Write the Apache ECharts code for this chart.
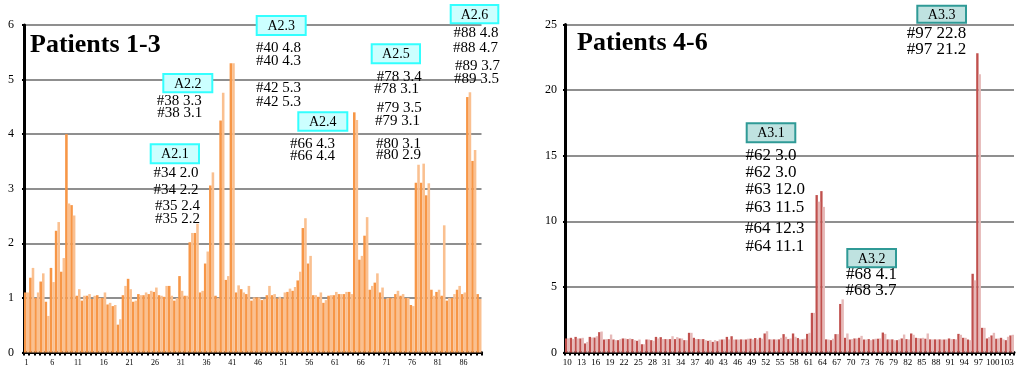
<!DOCTYPE html>
<html>
<head>
<meta charset="utf-8">
<script src="https://cdn.jsdelivr.net/npm/echarts@6/dist/echarts.min.js"></script>
<style>
  html, body { margin: 0; padding: 0; background: #fff; }
  #chart { width: 1020px; height: 372px; }
</style>
</head>
<body>
<div id="chart"></div>
<script>
// patients 1-3, positions 1..89
const leftCategories = Array.from({ length: 89 }, (_, i) => String(i + 1));
const leftDark = [
  1.10, 1.37, 1.00, 1.30, 0.93, 1.55, 2.23, 1.48, 4.00, 2.70,
  1.04, 0.95, 1.04, 0.98, 1.05, 1.00, 0.88, 0.85, 0.51, 1.05,
  1.35, 0.93, 1.07, 1.05, 1.07, 1.11, 1.05, 1.02, 1.22, 0.95,
  1.40, 1.04, 2.02, 2.19, 1.10, 1.63, 3.06, 1.04, 4.25, 1.33,
  5.30, 1.10, 1.16, 1.07, 0.95, 1.01, 0.96, 1.05, 1.05, 0.99,
  0.99, 1.11, 1.13, 1.32, 2.28, 1.63, 1.05, 1.02, 0.91, 1.04,
  1.05, 1.07, 1.07, 1.11, 4.40, 1.70, 2.14, 1.15, 1.28, 1.10,
  0.98, 1.00, 1.07, 1.04, 1.00, 0.87, 3.11, 3.11, 2.88, 1.15,
  1.11, 1.04, 0.95, 1.00, 1.15, 1.07, 4.68, 3.51, 1.07
];
const leftLight = [
  1.10, 1.55, 1.10, 1.45, 0.67, 1.29, 2.39, 1.73, 2.73, 2.51,
  1.16, 1.04, 1.07, 1.04, 1.00, 1.10, 0.91, 0.87, 0.61, 1.22,
  1.16, 0.95, 1.05, 1.10, 1.13, 1.19, 1.04, 1.22, 1.04, 1.00,
  1.13, 1.04, 2.19, 2.36, 1.13, 1.85, 3.30, 1.00, 4.76, 1.40,
  5.30, 1.23, 1.10, 1.22, 1.01, 1.01, 0.98, 1.22, 1.07, 1.02,
  1.10, 1.17, 1.20, 1.48, 2.46, 1.77, 1.05, 1.10, 0.96, 1.05,
  1.11, 1.07, 1.11, 1.07, 4.26, 1.77, 2.48, 1.22, 1.45, 1.19,
  1.00, 1.00, 1.13, 1.07, 1.00, 0.85, 3.44, 3.46, 3.10, 1.04,
  1.15, 2.33, 1.00, 1.07, 1.22, 1.10, 4.77, 3.71, 0.98
];

// patients 4-6, positions 10..104
const rightCategories = Array.from({ length: 95 }, (_, i) => String(i + 10));
const rightDark = [
  1.07, 1.12, 1.19, 1.07, 0.69, 1.19, 1.14, 1.55, 0.99, 1.02,
  0.99, 0.94, 1.07, 1.02, 1.02, 0.89, 0.63, 0.99, 0.94, 1.19,
  1.17, 1.02, 1.02, 1.02, 1.07, 0.94, 1.50, 1.12, 1.02, 1.02,
  0.89, 0.81, 0.86, 0.99, 1.19, 1.24, 0.99, 1.00, 0.99, 1.05,
  1.10, 1.12, 1.45, 1.00, 1.00, 1.00, 1.40, 1.02, 1.45, 1.10,
  1.00, 1.42, 3.02, 12.0, 12.3, 1.00, 0.94, 1.40, 3.70, 1.12,
  0.99, 1.07, 1.12, 0.99, 1.02, 1.00, 1.05, 1.52, 1.00, 1.00,
  0.94, 1.07, 1.02, 1.45, 1.12, 1.07, 1.05, 1.00, 1.00, 1.00,
  0.99, 1.07, 1.02, 1.42, 1.12, 0.99, 6.00, 22.8, 1.88, 1.07,
  1.30, 1.05, 1.12, 0.94, 1.30
];
const rightLight = [
  1.07, 1.02, 1.07, 1.12, 0.81, 1.14, 1.24, 1.60, 1.02, 1.37,
  0.94, 1.02, 1.07, 1.07, 0.94, 0.99, 0.63, 0.99, 0.89, 1.07,
  1.02, 1.02, 1.24, 1.17, 1.07, 0.94, 1.50, 1.02, 1.02, 0.94,
  0.94, 0.94, 0.99, 1.00, 1.00, 0.99, 0.99, 0.99, 1.05, 1.00,
  1.00, 1.05, 1.62, 1.00, 0.99, 1.12, 1.20, 1.07, 1.20, 1.00,
  1.05, 1.50, 3.02, 11.5, 11.1, 0.99, 1.05, 1.40, 4.05, 1.45,
  1.02, 1.07, 1.27, 0.99, 0.94, 1.05, 1.07, 1.42, 1.00, 0.94,
  1.00, 1.37, 1.00, 1.35, 1.10, 1.12, 1.45, 1.00, 1.00, 0.99,
  1.00, 1.02, 1.00, 1.35, 1.12, 0.94, 5.50, 21.2, 1.88, 1.17,
  1.50, 1.07, 1.00, 1.20, 1.35
];

const SERIF = '"Liberation Serif", "DejaVu Serif", serif';

// callout boxes and the text under them
const leftNotes = [
  { tag: 'A2.1', box: [150.7, 144.3, 48.3, 19], lines: [['#34 2.0', 153.5, 173.3], ['#34 2.2', 153.5, 190.3], ['#35 2.4', 155, 206], ['#35 2.2', 155, 219]] },
  { tag: 'A2.2', box: [163.3, 74, 49, 18.3], lines: [['#38 3.3', 156.7, 100.7], ['#38 3.1', 157.3, 112.7]] },
  { tag: 'A2.3', box: [256.7, 16, 49, 19], lines: [['#40 4.8', 256, 47.7], ['#40 4.3', 256, 60.7], ['#42 5.3', 256, 88.3], ['#42 5.3', 256, 101.7]] },
  { tag: 'A2.4', box: [298.3, 112.3, 49, 18.4], lines: [['#66 4.3', 290, 144], ['#66 4.4', 290, 156]] },
  { tag: 'A2.5', box: [371.7, 44.3, 48.3, 19], lines: [['#78 3.4', 376.7, 76.7], ['#78 3.1', 374, 89.3], ['#79 3.5', 376.7, 108.3], ['#79 3.1', 375, 120.7], ['#80 3.1', 376, 144], ['#80 2.9', 376, 155]] },
  { tag: 'A2.6', box: [450.7, 5, 47.6, 18.3], lines: [['#88 4.8', 453.5, 33.3], ['#88 4.7', 453, 48.3], ['#89 3.7', 455, 66], ['#89 3.5', 454, 79.3]] }
];
const rightNotes = [
  { tag: 'A3.1', box: [746.7, 123.3, 48.6, 19], lines: [['#62 3.0', 745.5, 155.7], ['#62 3.0', 745.5, 172.3], ['#63 12.0', 745.5, 190], ['#63 11.5', 745.5, 207.3], ['#64 12.3', 745, 228.3], ['#64 11.1', 745.5, 246.7]] },
  { tag: 'A3.2', box: [847.3, 249, 48.7, 18.3], lines: [['#68 4.1', 846, 275], ['#68 3.7', 845.5, 290.7]] },
  { tag: 'A3.3', box: [917.3, 5.7, 48.7, 17], lines: [['#97 22.8', 906.7, 33.3], ['#97 21.2', 906.7, 50]] }
];

function noteGraphics(notes, fill, stroke, fontSize) {
  const out = [];
  notes.forEach(n => {
    const [bx, by, bw, bh] = n.box;
    out.push({
      type: 'rect', z: 100,
      shape: { x: bx, y: by, width: bw, height: bh },
      style: { fill: fill, stroke: stroke, lineWidth: 2 }
    });
    out.push({
      type: 'text', z: 101, x: bx + bw / 2, y: by + bh / 2 + 1,
      style: { text: n.tag, font: '14px ' + SERIF, fill: '#000', align: 'center', verticalAlign: 'middle' }
    });
    n.lines.forEach(l => {
      out.push({
        type: 'text', z: 101, x: l[1], y: l[2],
        style: { text: l[0], font: fontSize + 'px ' + SERIF, fill: '#000', align: 'left', verticalAlign: 'middle' }
      });
    });
  });
  return out;
}

function xAxisCfg(grid, cats, labelInterval, fontSize) {
  return {
    type: 'category', gridIndex: grid, data: cats,
    axisLine: { lineStyle: { color: '#000', width: 3 } },
    axisTick: { show: true, interval: 0, length: 3, lineStyle: { color: '#000', width: 2 } },
    axisLabel: { interval: labelInterval, fontSize: fontSize, fontFamily: SERIF, color: '#000', margin: 6 }
  };
}

function yAxisCfg(grid, max, interval, margin) {
  return {
    type: 'value', gridIndex: grid, min: 0, max: max, interval: interval,
    axisLine: { show: true, lineStyle: { color: '#000', width: 3 } },
    axisTick: { show: true, length: 2, lineStyle: { color: '#000', width: 2 } },
    axisLabel: { fontSize: 12, fontFamily: SERIF, color: '#000', margin: margin },
    splitLine: { lineStyle: { color: '#8f8f8f', width: 2 } }
  };
}

function barSeries(xi, data, color) {
  return {
    type: 'bar', xAxisIndex: xi, yAxisIndex: xi, data: data,
    barGap: '0%', barCategoryGap: '0%',
    itemStyle: { color: color },
    animation: false
  };
}

const chart = echarts.init(document.getElementById('chart'));

const option = {
  animation: false,
  grid: [
    { left: 24, top: 25, width: 457.5, height: 327.5 },
    { left: 565, top: 24.5, width: 449, height: 328 }
  ],
  xAxis: [
    xAxisCfg(0, leftCategories, 4, 8),
    xAxisCfg(1, rightCategories, 2, 9)
  ],
  yAxis: [
    yAxisCfg(0, 6, 1, 10),
    yAxisCfg(1, 25, 5, 8)
  ],
  series: [
    barSeries(0, leftDark, '#F79646'),
    barSeries(0, leftLight, '#FAC090'),
    barSeries(1, rightDark, '#C0504D'),
    barSeries(1, rightLight, '#E6B9B8')
  ],
  graphic: [
    { type: 'text', z: 101, x: 30, y: 45, style: { text: 'Patients 1-3', font: 'bold 26px ' + SERIF, fill: '#000', verticalAlign: 'middle' } },
    { type: 'text', z: 101, x: 577, y: 43, style: { text: 'Patients 4-6', font: 'bold 26px ' + SERIF, fill: '#000', verticalAlign: 'middle' } }
  ].concat(
    noteGraphics(leftNotes, '#CCFFFF', '#33FFFF', 15),
    noteGraphics(rightNotes, '#BFE2E0', '#2F9A96', 17)
  )
};

chart.setOption(option);
</script>
</body>
</html>
